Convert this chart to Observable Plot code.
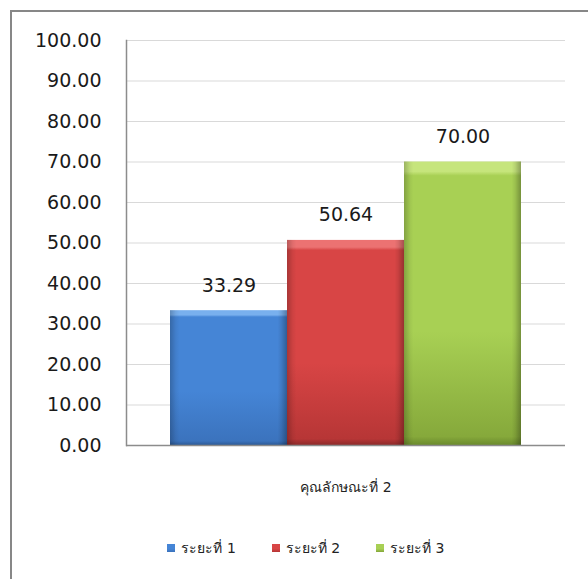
<!DOCTYPE html>
<html>
<head>
<meta charset="utf-8">
<script src="https://cdn.jsdelivr.net/npm/d3@7"></script>
<script src="https://cdn.jsdelivr.net/npm/@observablehq/plot@0.6"></script>
<style>
  html, body { margin: 0; padding: 0; background: #fff; overflow: hidden; }
  body { width: 588px; height: 579px; position: relative; font-family: "DejaVu Sans", sans-serif; }
  .edge { position: absolute; background: #878787; z-index: 5; }
  #edgeTop { left: 10px; top: 10px; width: 578px; height: 2px; }
  #edgeLeft { left: 10px; top: 10px; width: 2px; height: 569px; }
  #chart { position: absolute; left: 0; top: 0; }
  #legend { position: absolute; left: 12px; top: 537px; width: 588px; display: flex; justify-content: center; }
  .lg-swatches-wrap { justify-content: center !important; margin: 0 !important; min-height: 22px !important; }
  .lg-swatches { font-size: 14px !important; color: #222 !important; font-family: "DejaVu Sans", sans-serif !important; }
  .lg-swatch { margin-right: 36px !important; }
  .lg-swatch:last-child { margin-right: 0 !important; }
  .lg-swatch > svg { margin-right: 6px !important; }
</style>
</head>
<body>
<div id="chart"></div>
<div id="legend"></div>
<div class="edge" id="edgeTop"></div>
<div class="edge" id="edgeLeft"></div>
<script>
// Series shown for the single category
const category = "คุณลักษณะที่ 2";
const series = ["ระยะที่ 1", "ระยะที่ 2", "ระยะที่ 3"];
const values = [33.29, 50.64, 70.00];
const yTicks = [0, 10, 20, 30, 40, 50, 60, 70, 80, 90, 100];

// Shaded fills for the bevelled bars
const palette = [
  {id: "fillBlue",  top: "#79b0ee", face1: "#4585d6", face2: "#3b73bd", bottom: "#2c5a96"},
  {id: "fillRed",   top: "#ec7272", face1: "#d84545", face2: "#b73636", bottom: "#8c2a2a"},
  {id: "fillGreen", top: "#c6e57c", face1: "#a8d054", face2: "#86a93b", bottom: "#6a8a2d"}
];

const data = series.map((s, i) => ({category, series: s, value: values[i]}));

function gradients() {
  const defs = d3.create("svg:defs");
  for (const p of palette) {
    const g = defs.append("linearGradient").attr("id", p.id)
      .attr("x1", 0).attr("y1", 0).attr("x2", 0).attr("y2", 1);
    [[0, p.top], [0.035, p.top], [0.05, p.face1], [0.6, p.face1], [0.97, p.face2], [1, p.bottom]]
      .forEach(([o, c]) => g.append("stop").attr("offset", o).attr("stop-color", c));
  }
  const e = defs.append("linearGradient").attr("id", "edgeShade")
    .attr("x1", 0).attr("y1", 0).attr("x2", 1).attr("y2", 0);
  [[0, "rgba(0,0,0,0.22)"], [0.05, "rgba(0,0,0,0.05)"], [0.08, "rgba(0,0,0,0)"],
   [0.92, "rgba(0,0,0,0)"], [0.95, "rgba(0,0,0,0.08)"], [1, "rgba(0,0,0,0.3)"]]
    .forEach(([o, c]) => e.append("stop").attr("offset", o).attr("stop-color", c));
  return defs.node();
}

const colorScale = {domain: series, range: palette.map(p => `url(#${p.id})`)};

const chart = Plot.plot({
  width: 588,
  height: 579,
  marginLeft: 126,
  marginRight: 23,
  marginTop: 40,
  marginBottom: 134,
  style: {fontFamily: "DejaVu Sans, sans-serif", background: "transparent"},
  fx: {domain: [category], padding: 0, label: null},
  x: {domain: series, paddingInner: 0, paddingOuter: 0.375, axis: null},
  y: {domain: [0, 100], label: null},
  color: colorScale,
  marks: [
    gradients,
    Plot.gridY(yTicks, {stroke: "#d9d9d9", strokeOpacity: 1}),
    Plot.axisY(yTicks, {tickSize: 0, tickPadding: 25, tickFormat: d3.format(".2f"),
      fontSize: 19, fill: "#1a1a1a", label: null}),
    Plot.axisFx({anchor: "bottom", tickSize: 0, tickPadding: 37, fontSize: 14, fill: "#222", label: null}),
    Plot.barY(data, {fx: "category", x: "series", y: "value", fill: "series", inset: 0}),
    Plot.barY(data, {fx: "category", x: "series", y: "value", fill: "url(#edgeShade)", inset: 0}),
    Plot.text(data, {fx: "category", x: "series", y: "value", text: d => d3.format(".2f")(d.value),
      lineAnchor: "bottom", dy: -19, fontSize: 19, fill: "#1a1a1a"}),
    Plot.ruleY([0], {stroke: "#8c8c8c", strokeWidth: 1.5}),
    Plot.frame({anchor: "left", stroke: "#8c8c8c", strokeWidth: 1.5})
  ]
});
document.getElementById("chart").append(chart);

const legend = Plot.legend({
  color: {type: "ordinal", ...colorScale},
  legend: "swatches",
  swatchSize: 8,
  className: "lg"
});
document.getElementById("legend").append(legend);
</script>
</body>
</html>
